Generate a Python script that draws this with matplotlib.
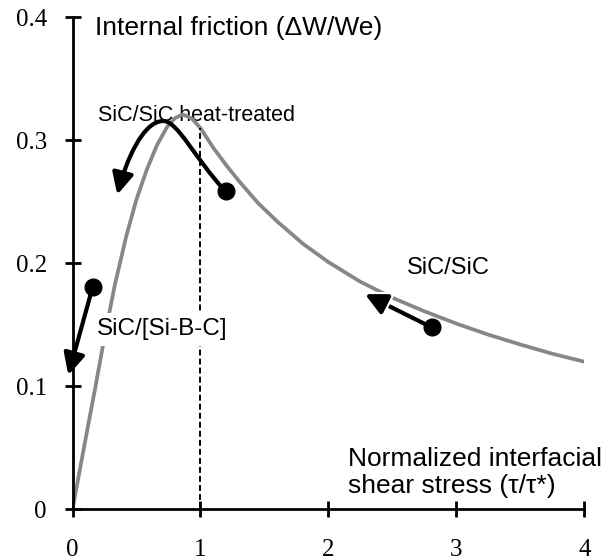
import numpy as np
import matplotlib
matplotlib.use("Agg")
import matplotlib.pyplot as plt
from matplotlib.patches import FancyArrowPatch
from matplotlib.path import Path
import matplotlib.patheffects as pe

# Master curve: internal friction vs normalized interfacial shear stress
tau_ratio = [0.00, 0.10, 0.18, 0.25, 0.33, 0.42, 0.50, 0.58, 0.66, 0.74,
             0.80, 0.86, 0.93, 1.00, 1.10, 1.20, 1.30, 1.45, 1.60, 1.80,
             2.00, 2.25, 2.50, 2.75, 3.00, 3.25, 3.50, 3.75, 4.00]
friction = [0.000, 0.056, 0.100, 0.140, 0.182, 0.222, 0.252, 0.276, 0.296,
            0.311, 0.318, 0.321, 0.318, 0.310, 0.294, 0.280, 0.267, 0.249,
            0.234, 0.216, 0.201, 0.185, 0.172, 0.161, 0.151, 0.142, 0.134,
            0.1265, 0.120]

# Evolution paths of the three composites (start point first, arrow tip last)
# heat-treated SiC/SiC: two cubic segments (start, ctrl, ctrl, apex, ctrl, ctrl, tip)
heat_x = [1.197, 0.957, 0.824, 0.709, 0.551, 0.418, 0.350]
heat_y = [0.2584, 0.2849, 0.3157, 0.3157, 0.3157, 0.2833, 0.2557]
sibc_x = [0.158, -0.033]
sibc_y = [0.181, 0.109]
sic_x = [2.806, 2.285]
sic_y = [0.148, 0.175]

x_ticks = [0, 1, 2, 3, 4]
y_ticks = [0, 0.1, 0.2, 0.3, 0.4]
y_tick_labels = ["0", "0.1", "0.2", "0.3", "0.4"]

plt.rcParams["lines.scale_dashes"] = False
SANS = "Liberation Sans"
SERIF = "Liberation Serif"

fig = plt.figure(figsize=(6.16, 5.6), dpi=100)
ax = fig.add_axes([0.1177, 0.0905, 0.8308, 0.8786])

ax.set_xlim(0, 4)
ax.set_ylim(0, 0.4)
for side in ("top", "right"):
    ax.spines[side].set_visible(False)
for side in ("left", "bottom"):
    ax.spines[side].set_linewidth(2.0)
    ax.spines[side].set_color("black")

ax.set_xticks(x_ticks)
ax.set_xticklabels([str(v) for v in x_ticks])
ax.set_yticks(y_ticks)
ax.set_yticklabels(y_tick_labels)
ax.tick_params(axis="both", direction="inout", length=11, width=2.0,
               labelsize=18, color="black")
ax.tick_params(axis="y", pad=13)
ax.tick_params(axis="x", pad=16)
for lab in ax.get_xticklabels() + ax.get_yticklabels():
    lab.set_fontfamily(SERIF)

# master curve
ax.plot(tau_ratio, friction, color="#878787", lw=2.7, zorder=2,
        solid_capstyle="butt", solid_joinstyle="round")

# dashed marker at tau = tau*
y_at_one = float(np.interp(1.0, tau_ratio, friction))
ax.plot([1, 1], [0, y_at_one], color="black", lw=1.4, dashes=(4.3, 2.2), zorder=2)

HEAD = "-|>,head_length=0.65,head_width=0.32"


def draw_path(xs, ys, codes=None, outline=False):
    verts = np.column_stack([xs, ys])
    arrow = FancyArrowPatch(path=Path(verts, codes), transform=ax.transData,
                            arrowstyle=HEAD, mutation_scale=20, lw=3.0,
                            color="black", joinstyle="round", capstyle="butt",
                            clip_on=False, zorder=5)
    if outline:
        arrow.set_path_effects([pe.withStroke(linewidth=6, foreground="white")])
    ax.add_patch(arrow)
    ax.plot(xs[0], ys[0], "o", color="black", ms=12, zorder=6, clip_on=False)


bezier_codes = [Path.MOVETO] + [Path.CURVE4] * 6
draw_path(heat_x, heat_y, codes=bezier_codes)
draw_path(sibc_x, sibc_y)
draw_path(sic_x, sic_y, outline=True)

# annotations
ax.text(0.176, 0.386, "Internal friction (ΔW/We)", family=SANS, fontsize=19,
        va="baseline", ha="left")
ax.text(0.20, 0.3157, "SiC/SiC heat-treated", family=SANS, fontsize=15.5,
        va="baseline", ha="left", zorder=1)
ax.text(2.616, 0.1914, "SiC/SiC", family=SANS, fontsize=17,
        va="baseline", ha="left")
ax.text(0.189, 0.1414, "SiC/[Si-B-C]", family=SANS, fontsize=17.5,
        va="baseline", ha="left", zorder=3,
        bbox=dict(facecolor="white", edgecolor="none", pad=4))
ax.text(2.155, 0.0354, "Normalized interfacial", family=SANS, fontsize=19,
        va="baseline", ha="left")
ax.text(2.155, 0.0130, "shear stress (τ/τ*)", family=SANS, fontsize=19,
        va="baseline", ha="left")

fig.savefig("out.png", dpi=100)
